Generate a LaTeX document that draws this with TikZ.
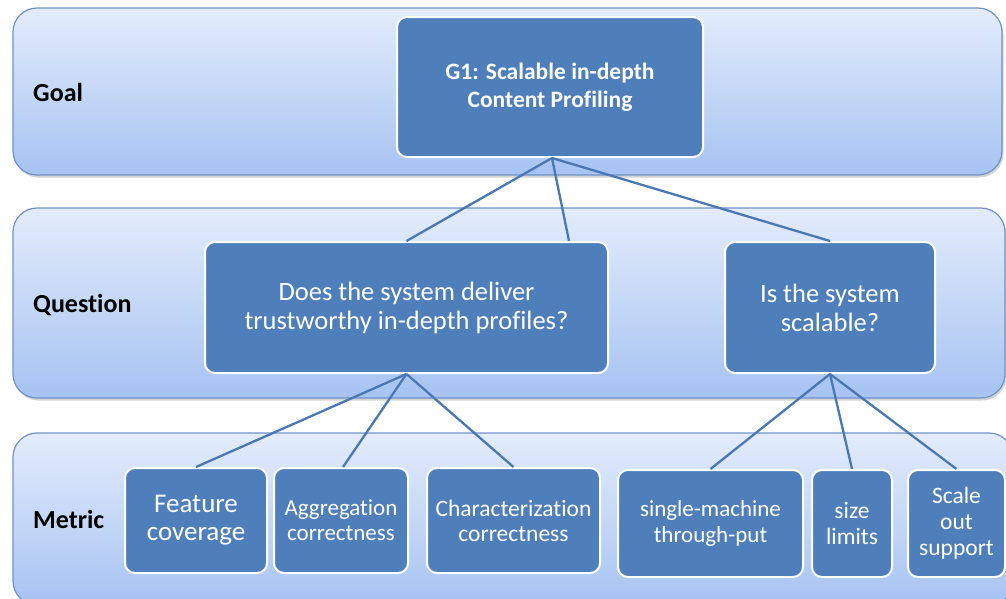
\documentclass[tikz,border=0pt]{standalone}
\usepackage{fontspec}
\setmainfont[Ligatures=NoCommon]{Carlito}
\usetikzlibrary{shadows}
\definecolor{bandtop}{HTML}{E3ECFB}
\definecolor{bandbot}{HTML}{A6C3F2}
\definecolor{bandline}{HTML}{6F93C6}
\definecolor{boxfill}{HTML}{4F7FBB}
\definecolor{linkcol}{HTML}{4A78B4}
\tikzset{
  band/.style={draw=bandline, line width=1.2pt, rounded corners=24pt,
    top color=bandtop, bottom color=bandbot, inner sep=0pt,
    drop shadow={shadow xshift=1.5pt, shadow yshift=-2.5pt, opacity=0.35}},
  bandlabel/.style={font=\fontsize{26}{30}\selectfont\bfseries, text=black, anchor=west, inner sep=0pt},
  box/.style={draw=white, line width=2pt, fill=boxfill, rounded corners=10pt,
    text=white, align=center, inner sep=2pt},
  link/.style={draw=linkcol, line width=2.3pt},
}
\begin{document}
\begin{tikzpicture}[x=1pt, y=-1pt]
\useasboundingbox (0,0) rectangle (1006,598);
% layer bands
\node[band, minimum width=989pt, minimum height=167pt] (goalband) at (507.5,91.5) {};
\node[band, minimum width=992pt, minimum height=190pt] (qband) at (509,303) {};
\node[band, minimum width=1000pt, minimum height=172pt] (mband) at (513,519) {};
\node[bandlabel] (goallbl) at (33,92) {Goal};
\node[bandlabel] (qlbl) at (33,305) {Question};
\node[bandlabel] (mlbl) at (33,519) {Metric};
% goal
\node[box, minimum width=306pt, minimum height=140pt, font=\fontsize{23.5}{28}\selectfont\bfseries]
  (g1) at (550,87) {G1: Scalable in-depth\\Content Profiling};
% questions
\node[box, minimum width=403pt, minimum height=131pt, font=\fontsize{26.5}{29}\selectfont]
  (q1) at (406.5,307.5) {Does the system deliver\\trustworthy in-depth profiles?};
\node[box, minimum width=210pt, minimum height=131pt, font=\fontsize{26.5}{29}\selectfont]
  (q2) at (830,307.5) {Is the system\\scalable?};
% metrics
\node[box, minimum width=142pt, minimum height=105pt, font=\fontsize{27}{28}\selectfont]
  (feat) at (196,520.5) {Feature\\coverage};
\node[box, minimum width=134pt, minimum height=105pt, font=\fontsize{23}{25}\selectfont]
  (agg) at (341,520.5) {Aggregation\\correctness};
\node[box, minimum width=173pt, minimum height=105pt, font=\fontsize{23.5}{25}\selectfont]
  (chr) at (513.5,520.5) {Characterization\\correctness};
\node[box, minimum width=185pt, minimum height=107pt, font=\fontsize{23}{26}\selectfont]
  (single) at (710.5,523.5) {single-machine\\through-put};
\node[box, minimum width=80pt, minimum height=107pt, font=\fontsize{23.5}{26}\selectfont]
  (size) at (852,523.5) {size\\limits};
\node[box, minimum width=97pt, minimum height=107pt, font=\fontsize{23.5}{26}\selectfont]
  (scale) at (956.5,523.5) {Scale\\out\\support};
% links
\draw[link] ([xshift=2pt]g1.south) -- (q1.north);
\draw[link] ([xshift=2pt]g1.south) -- ([xshift=-40pt]q1.north east);
\draw[link] ([xshift=2pt]g1.south) -- (q2.north);
\draw[link] (q1.south) -- (feat.north);
\draw[link] (q1.south) -- ([xshift=2pt]agg.north);
\draw[link] (q1.south) -- (chr.north);
\draw[link] (q2.south) -- (single.north);
\draw[link] (q2.south) -- (size.north);
\draw[link] (q2.south) -- (scale.north);
\end{tikzpicture}
\end{document}
